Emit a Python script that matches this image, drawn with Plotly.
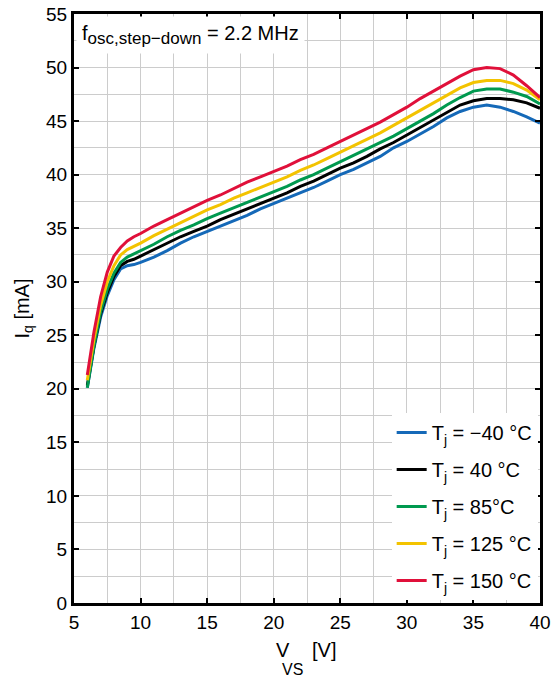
import plotly.graph_objects as go

v_vs = [6, 6.5, 7, 7.5, 8, 8.5, 9, 9.5, 10, 11, 12, 13, 14, 15, 16, 17, 18, 19, 20,
        21, 22, 23, 24, 25, 26, 27, 28, 29, 30, 31, 32, 33, 34, 35, 36, 37, 38, 39, 40]

iq_m40 = [20.1, 23.8, 26.7, 28.7, 30.2, 31.2, 31.5, 31.6, 31.8, 32.3, 32.9, 33.6, 34.2, 34.7,
          35.2, 35.7, 36.2, 36.8, 37.3, 37.8, 38.3, 38.8, 39.4, 40.0, 40.5, 41.1, 41.7, 42.5,
          43.1, 43.8, 44.5, 45.3, 45.9, 46.3, 46.5, 46.3, 45.9, 45.4, 44.8]
iq_40 = [20.3, 24.0, 27.0, 29.0, 30.5, 31.5, 31.9, 32.1, 32.4, 33.0, 33.6, 34.2, 34.7, 35.2,
         35.8, 36.3, 36.8, 37.3, 37.8, 38.3, 38.9, 39.4, 40.0, 40.6, 41.1, 41.7, 42.4, 43.0,
         43.7, 44.4, 45.1, 45.8, 46.5, 46.9, 47.1, 47.1, 47.0, 46.7, 46.2]
iq_85 = [20.1, 24.0, 27.2, 29.3, 30.8, 31.8, 32.3, 32.6, 32.9, 33.5, 34.2, 34.8, 35.3, 35.9,
         36.4, 36.9, 37.4, 37.9, 38.4, 38.9, 39.5, 40.0, 40.6, 41.2, 41.8, 42.4, 43.0, 43.6,
         44.3, 45.0, 45.7, 46.5, 47.2, 47.8, 48.0, 48.0, 47.7, 47.3, 46.6]
iq_125 = [20.8, 24.6, 27.8, 30.0, 31.5, 32.5, 33.0, 33.3, 33.6, 34.3, 34.9, 35.5, 36.1, 36.7,
          37.2, 37.8, 38.3, 38.8, 39.3, 39.8, 40.4, 40.9, 41.5, 42.1, 42.7, 43.3, 43.9, 44.6,
          45.3, 46.0, 46.7, 47.4, 48.1, 48.6, 48.8, 48.8, 48.5, 47.9, 47.0]
iq_150 = [21.3, 25.3, 28.6, 30.9, 32.4, 33.2, 33.8, 34.2, 34.5, 35.2, 35.8, 36.4, 37.0, 37.6,
          38.1, 38.7, 39.3, 39.8, 40.3, 40.8, 41.4, 41.9, 42.5, 43.1, 43.7, 44.3, 44.9, 45.6,
          46.3, 47.1, 47.8, 48.5, 49.2, 49.8, 50.0, 49.9, 49.3, 48.3, 47.2]

series_names = ["T<sub>j</sub> = \u221240 \u00b0C", "T<sub>j</sub> = 40 \u00b0C",
                "T<sub>j</sub> = 85\u00b0C", "T<sub>j</sub> = 125 \u00b0C",
                "T<sub>j</sub> = 150 \u00b0C"]
series_values = [iq_m40, iq_40, iq_85, iq_125, iq_150]
colors = ["#1569b8", "#000000", "#00994f", "#f3c300", "#e0103a"]

FONT = "Liberation Sans, Arial, Helvetica, sans-serif"

fig = go.Figure()
for i, (name, vals, col) in enumerate(zip(series_names, series_values, colors)):
    fig.add_trace(go.Scatter(x=v_vs, y=vals, mode="lines", name=name,
                             legendgroup=f"g{i}",
                             line=dict(color=col, width=3)))

axis_common = dict(
    showline=True, linecolor="black", linewidth=3, mirror="ticks",
    ticks="inside", ticklen=5, tickwidth=2, tickcolor="black",
    showgrid=True, gridcolor="#cccccc", gridwidth=1,
    zeroline=False, automargin=False,
    tickfont=dict(size=19, color="black", family=FONT),
)

fig.update_xaxes(range=[5, 40], dtick=5, tick0=5,
                 minor=dict(dtick=2.5, showgrid=True, gridcolor="#cccccc", gridwidth=1),
                 **axis_common)
fig.update_yaxes(range=[0, 55], dtick=5, tick0=0,
                 minor=dict(dtick=2.5, showgrid=True, gridcolor="#cccccc", gridwidth=1),
                 title=dict(text="I<sub>q</sub> [mA]", font=dict(size=20, color="black", family=FONT),
                            standoff=12),
                 **axis_common)

# x-axis title pieces (V ... [V] with a low subscript VS)
fig.add_annotation(xref="paper", yref="paper", x=(283 - 74) / 466, y=(603 - 650) / 589,
                   xanchor="center", yanchor="middle", text="V", showarrow=False,
                   font=dict(size=20, color="black", family=FONT))
fig.add_annotation(xref="paper", yref="paper", x=(324 - 74) / 466, y=(603 - 650) / 589,
                   xanchor="center", yanchor="middle", text="[V]", showarrow=False,
                   font=dict(size=20, color="black", family=FONT))
fig.add_annotation(xref="paper", yref="paper", x=(292 - 74) / 466, y=(603 - 669) / 589,
                   xanchor="center", yanchor="middle", text="VS", showarrow=False,
                   font=dict(size=16, color="black", family=FONT))

fig.add_annotation(xref="paper", yref="paper", x=0.004, y=0.996, xanchor="left", yanchor="top",
                   text="f<sub><span style=\"font-size:17px\">osc,step\u2212down</span></sub> = 2.2 MHz",
                   showarrow=False,
                   font=dict(size=20, color="black", family=FONT),
                   bgcolor="white", borderpad=5, align="left")

fig.update_layout(
    width=554, height=682,
    margin=dict(l=74, r=14, t=14, b=79),
    paper_bgcolor="white", plot_bgcolor="white",
    font=dict(family=FONT, size=19, color="black"),
    showlegend=True,
    legend=dict(x=0.995, y=0.005, xanchor="right", yanchor="bottom",
                bgcolor="white", borderwidth=0, tracegroupgap=8,
                font=dict(size=20, color="black", family=FONT)),
)

fig.write_html("out.html")
